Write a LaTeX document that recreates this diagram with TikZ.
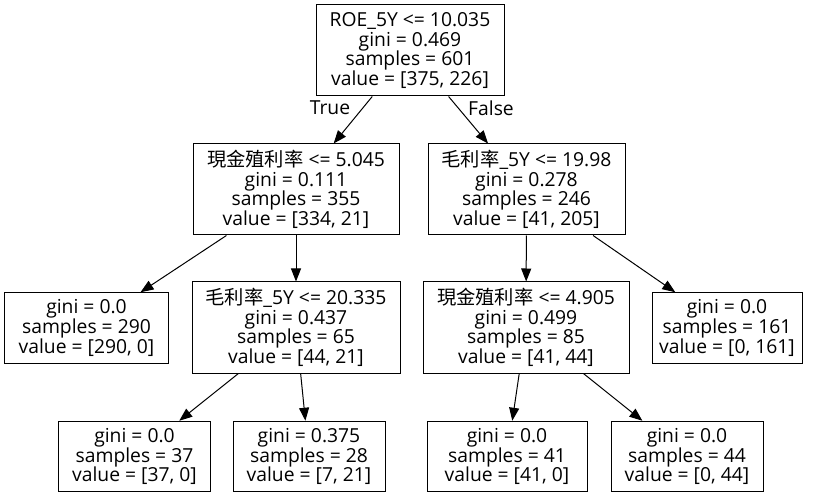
\documentclass[tikz,border=0pt]{standalone}
\usepackage{fontspec}
\setmainfont{Open Sans}
\newfontfamily\cjk{Noto Sans CJK TC}
\usetikzlibrary{arrows.meta}
\begin{document}
\begin{tikzpicture}[x=1bp,y=-1bp,
  box/.style={draw=black, line width=1bp, rectangle, inner sep=0pt, align=center,
    font=\fontsize{19.3bp}{19.6bp}\selectfont},
  tall/.style={minimum height=91bp},
  short/.style={minimum height=70.5bp},
  edge/.style={draw=black, line width=1bp, -{Triangle[length=13bp,width=10bp]}},
  lbl/.style={font=\fontsize{19.3bp}{19.6bp}\selectfont, inner sep=0pt}]
\useasboundingbox (0,0) rectangle (821,497);
\node[box, tall, minimum width=188bp] (root) at (410,50.5)
  {ROE\_5Y <= 10.035\\gini = 0.469\\samples = 601\\value = [375, 226]};
\node[box, tall, minimum width=206bp] (a) at (296,189.5)
  {{\cjk 現金殖利率} <= 5.045\\gini = 0.111\\samples = 355\\value = [334, 21]};
\node[box, tall, minimum width=197bp] (b) at (526.5,189.5)
  {{\cjk 毛利率}\_5Y <= 19.98\\gini = 0.278\\samples = 246\\value = [41, 205]};
\node[box, short, minimum width=163bp] (c) at (86.5,328)
  {gini = 0.0\\samples = 290\\value = [290, 0]};
\node[box, tall, minimum width=208bp] (d) at (296,327.5)
  {{\cjk 毛利率}\_5Y <= 20.335\\gini = 0.437\\samples = 65\\value = [44, 21]};
\node[box, tall, minimum width=206bp] (e) at (526,327.5)
  {{\cjk 現金殖利率} <= 4.905\\gini = 0.499\\samples = 85\\value = [41, 44]};
\node[box, short, minimum width=150bp] (f) at (727,328)
  {gini = 0.0\\samples = 161\\value = [0, 161]};
\node[box, short, minimum width=151bp] (g) at (134.5,456.5)
  {gini = 0.0\\samples = 37\\value = [37, 0]};
\node[box, short, minimum width=152bp] (h) at (309,456.5)
  {gini = 0.375\\samples = 28\\value = [7, 21]};
\node[box, short, minimum width=160bp] (i) at (507,456.5)
  {gini = 0.0\\samples = 41\\value = [41, 0]};
\node[box, short, minimum width=152bp] (j) at (687,456.5)
  {gini = 0.0\\samples = 44\\value = [0, 44]};
\draw[edge] (root) -- (a);
\draw[edge] (root) -- (b);
\draw[edge] (a) -- (c);
\draw[edge] (a) -- (d);
\draw[edge] (b) -- (e);
\draw[edge] (b) -- (f);
\draw[edge] (d) -- (g);
\draw[edge] (d) -- (h);
\draw[edge] (e) -- (i);
\draw[edge] (e) -- (j);
\node[lbl] (tl) at (330,108) {True};
\node[lbl] (fl) at (491,108) {False};
\end{tikzpicture}
\end{document}
